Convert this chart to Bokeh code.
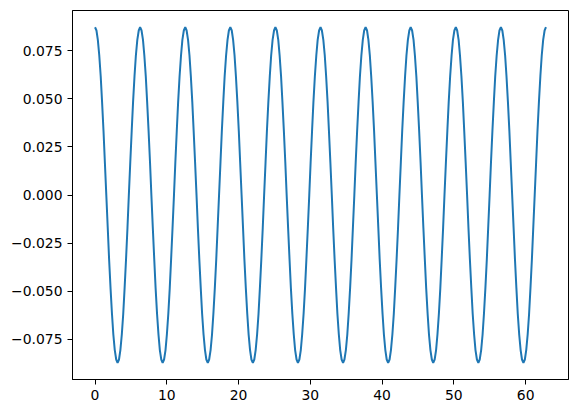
from bokeh.plotting import figure
from bokeh.models import Range1d, FixedTicker, CustomJSTickFormatter
from bokeh.embed import file_html
from bokeh.resources import INLINE

# x positions (read along the horizontal axis, 0 .. ~62.8), one row per wave period
x_values = [
    0.00, 0.20, 0.39, 0.59, 0.79, 0.98, 1.18, 1.37, 1.57, 1.77, 1.96, 2.16, 2.36, 2.55, 2.75, 2.95,
    3.14, 3.34, 3.53, 3.73, 3.93, 4.12, 4.32, 4.52, 4.71, 4.91, 5.11, 5.30, 5.50, 5.69, 5.89, 6.09,
    6.28, 6.48, 6.68, 6.87, 7.07, 7.26, 7.46, 7.66, 7.85, 8.05, 8.25, 8.44, 8.64, 8.84, 9.03, 9.23,
    9.42, 9.62, 9.82, 10.01, 10.21, 10.41, 10.60, 10.80, 11.00, 11.19, 11.39, 11.58, 11.78, 11.98, 12.17, 12.37,
    12.57, 12.76, 12.96, 13.16, 13.35, 13.55, 13.74, 13.94, 14.14, 14.33, 14.53, 14.73, 14.92, 15.12, 15.32, 15.51,
    15.71, 15.90, 16.10, 16.30, 16.49, 16.69, 16.89, 17.08, 17.28, 17.48, 17.67, 17.87, 18.06, 18.26, 18.46, 18.65,
    18.85, 19.05, 19.24, 19.44, 19.63, 19.83, 20.03, 20.22, 20.42, 20.62, 20.81, 21.01, 21.21, 21.40, 21.60, 21.79,
    21.99, 22.19, 22.38, 22.58, 22.78, 22.97, 23.17, 23.37, 23.56, 23.76, 23.95, 24.15, 24.35, 24.54, 24.74, 24.94,
    25.13, 25.33, 25.53, 25.72, 25.92, 26.11, 26.31, 26.51, 26.70, 26.90, 27.10, 27.29, 27.49, 27.69, 27.88, 28.08,
    28.27, 28.47, 28.67, 28.86, 29.06, 29.26, 29.45, 29.65, 29.85, 30.04, 30.24, 30.43, 30.63, 30.83, 31.02, 31.22,
    31.42, 31.61, 31.81, 32.01, 32.20, 32.40, 32.59, 32.79, 32.99, 33.18, 33.38, 33.58, 33.77, 33.97, 34.16, 34.36,
    34.56, 34.75, 34.95, 35.15, 35.34, 35.54, 35.74, 35.93, 36.13, 36.32, 36.52, 36.72, 36.91, 37.11, 37.31, 37.50,
    37.70, 37.90, 38.09, 38.29, 38.48, 38.68, 38.88, 39.07, 39.27, 39.47, 39.66, 39.86, 40.06, 40.25, 40.45, 40.64,
    40.84, 41.04, 41.23, 41.43, 41.63, 41.82, 42.02, 42.22, 42.41, 42.61, 42.80, 43.00, 43.20, 43.39, 43.59, 43.79,
    43.98, 44.18, 44.38, 44.57, 44.77, 44.96, 45.16, 45.36, 45.55, 45.75, 45.95, 46.14, 46.34, 46.53, 46.73, 46.93,
    47.12, 47.32, 47.52, 47.71, 47.91, 48.11, 48.30, 48.50, 48.69, 48.89, 49.09, 49.28, 49.48, 49.68, 49.87, 50.07,
    50.27, 50.46, 50.66, 50.85, 51.05, 51.25, 51.44, 51.64, 51.84, 52.03, 52.23, 52.43, 52.62, 52.82, 53.01, 53.21,
    53.41, 53.60, 53.80, 54.00, 54.19, 54.39, 54.59, 54.78, 54.98, 55.17, 55.37, 55.57, 55.76, 55.96, 56.16, 56.35,
    56.55, 56.75, 56.94, 57.14, 57.33, 57.53, 57.73, 57.92, 58.12, 58.32, 58.51, 58.71, 58.90, 59.10, 59.30, 59.49,
    59.69, 59.89, 60.08, 60.28, 60.48, 60.67, 60.87, 61.06, 61.26, 61.46, 61.65, 61.85, 62.05, 62.24, 62.44, 62.64,
    62.83,
]

# y values (peaks at about +/-0.0872)
y_values = [
    0.0872, 0.0855, 0.0806, 0.0725, 0.0617, 0.0484, 0.0334, 0.0170, 0.0, -0.0170, -0.0334, -0.0484, -0.0617, -0.0725, -0.0806, -0.0855,
    -0.0872, -0.0855, -0.0806, -0.0725, -0.0617, -0.0484, -0.0334, -0.0170, 0.0, 0.0170, 0.0334, 0.0484, 0.0617, 0.0725, 0.0806, 0.0855,
    0.0872, 0.0855, 0.0806, 0.0725, 0.0617, 0.0484, 0.0334, 0.0170, 0.0, -0.0170, -0.0334, -0.0484, -0.0617, -0.0725, -0.0806, -0.0855,
    -0.0872, -0.0855, -0.0806, -0.0725, -0.0617, -0.0484, -0.0334, -0.0170, 0.0, 0.0170, 0.0334, 0.0484, 0.0617, 0.0725, 0.0806, 0.0855,
    0.0872, 0.0855, 0.0806, 0.0725, 0.0617, 0.0484, 0.0334, 0.0170, 0.0, -0.0170, -0.0334, -0.0484, -0.0617, -0.0725, -0.0806, -0.0855,
    -0.0872, -0.0855, -0.0806, -0.0725, -0.0617, -0.0484, -0.0334, -0.0170, 0.0, 0.0170, 0.0334, 0.0484, 0.0617, 0.0725, 0.0806, 0.0855,
    0.0872, 0.0855, 0.0806, 0.0725, 0.0617, 0.0484, 0.0334, 0.0170, 0.0, -0.0170, -0.0334, -0.0484, -0.0617, -0.0725, -0.0806, -0.0855,
    -0.0872, -0.0855, -0.0806, -0.0725, -0.0617, -0.0484, -0.0334, -0.0170, 0.0, 0.0170, 0.0334, 0.0484, 0.0617, 0.0725, 0.0806, 0.0855,
    0.0872, 0.0855, 0.0806, 0.0725, 0.0617, 0.0484, 0.0334, 0.0170, 0.0, -0.0170, -0.0334, -0.0484, -0.0617, -0.0725, -0.0806, -0.0855,
    -0.0872, -0.0855, -0.0806, -0.0725, -0.0617, -0.0484, -0.0334, -0.0170, 0.0, 0.0170, 0.0334, 0.0484, 0.0617, 0.0725, 0.0806, 0.0855,
    0.0872, 0.0855, 0.0806, 0.0725, 0.0617, 0.0484, 0.0334, 0.0170, 0.0, -0.0170, -0.0334, -0.0484, -0.0617, -0.0725, -0.0806, -0.0855,
    -0.0872, -0.0855, -0.0806, -0.0725, -0.0617, -0.0484, -0.0334, -0.0170, 0.0, 0.0170, 0.0334, 0.0484, 0.0617, 0.0725, 0.0806, 0.0855,
    0.0872, 0.0855, 0.0806, 0.0725, 0.0617, 0.0484, 0.0334, 0.0170, 0.0, -0.0170, -0.0334, -0.0484, -0.0617, -0.0725, -0.0806, -0.0855,
    -0.0872, -0.0855, -0.0806, -0.0725, -0.0617, -0.0484, -0.0334, -0.0170, 0.0, 0.0170, 0.0334, 0.0484, 0.0617, 0.0725, 0.0806, 0.0855,
    0.0872, 0.0855, 0.0806, 0.0725, 0.0617, 0.0484, 0.0334, 0.0170, 0.0, -0.0170, -0.0334, -0.0484, -0.0617, -0.0725, -0.0806, -0.0855,
    -0.0872, -0.0855, -0.0806, -0.0725, -0.0617, -0.0484, -0.0334, -0.0170, 0.0, 0.0170, 0.0334, 0.0484, 0.0617, 0.0725, 0.0806, 0.0855,
    0.0872, 0.0855, 0.0806, 0.0725, 0.0617, 0.0484, 0.0334, 0.0170, 0.0, -0.0170, -0.0334, -0.0484, -0.0617, -0.0725, -0.0806, -0.0855,
    -0.0872, -0.0855, -0.0806, -0.0725, -0.0617, -0.0484, -0.0334, -0.0170, 0.0, 0.0170, 0.0334, 0.0484, 0.0617, 0.0725, 0.0806, 0.0855,
    0.0872, 0.0855, 0.0806, 0.0725, 0.0617, 0.0484, 0.0334, 0.0170, 0.0, -0.0170, -0.0334, -0.0484, -0.0617, -0.0725, -0.0806, -0.0855,
    -0.0872, -0.0855, -0.0806, -0.0725, -0.0617, -0.0484, -0.0334, -0.0170, 0.0, 0.0170, 0.0334, 0.0484, 0.0617, 0.0725, 0.0806, 0.0855,
    0.0872,
]

x_ticks = [0, 10, 20, 30, 40, 50, 60]
y_ticks = [-0.075, -0.050, -0.025, 0.0, 0.025, 0.050, 0.075]

p = figure(
    frame_width=496, frame_height=369,
    min_border_left=72, min_border_top=10, min_border_right=1, min_border_bottom=26,
    output_backend="svg", toolbar_location=None,
    x_range=Range1d(-3.14, 65.97), y_range=Range1d(-0.0959, 0.0959),
)
p.background_fill_color = "white"
p.border_fill_color = "white"
p.outline_line_color = "black"
p.outline_line_width = 1
p.outline_line_alpha = 1
p.grid.visible = False

p.line(x_values, y_values, line_color="#1f77b4", line_width=2)

for ax in (p.xaxis[0], p.yaxis[0]):
    ax.axis_line_color = "black"
    ax.major_tick_line_color = "black"
    ax.major_tick_out = 5
    ax.major_tick_in = 0
    ax.minor_tick_line_color = None
    ax.major_label_text_font = "DejaVu Sans"
    ax.major_label_text_font_size = "13.9px"
    ax.major_label_text_color = "black"
    ax.major_label_standoff = 5

p.xaxis[0].ticker = FixedTicker(ticks=x_ticks)
p.yaxis[0].ticker = FixedTicker(ticks=y_ticks)
p.xaxis[0].formatter = CustomJSTickFormatter(code="return Math.round(tick).toString();")
p.yaxis[0].formatter = CustomJSTickFormatter(
    code="var s = Math.abs(tick).toFixed(3); return (tick < -1e-9 ? '\u2212' : '') + s;"
)

open("out.html", "w").write(file_html(p, INLINE))
